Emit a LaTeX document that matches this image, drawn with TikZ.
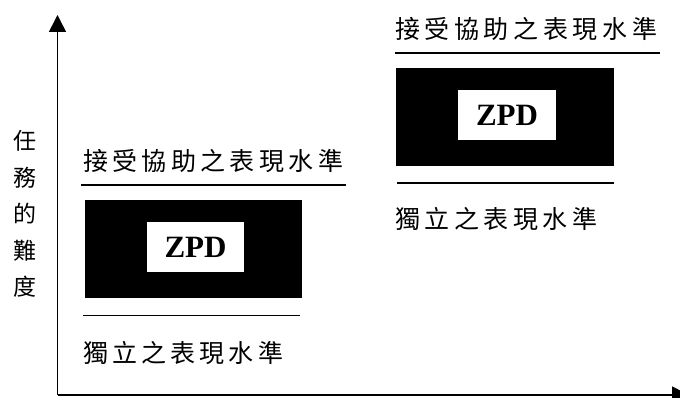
\documentclass[tikz,border=0pt]{standalone}
\usepackage{fontspec}
\setmainfont{Liberation Serif}
\newfontfamily\cjk{Noto Sans CJK TC}
\usetikzlibrary{arrows.meta}
\tikzset{
  x=1pt, y=-1pt,
  axis/.style={line width=1.6pt, -{Triangle[length=17pt,width=17pt]}},
  rule/.style={line width=1.6pt},
  blackbox/.style={fill=black, draw=none, inner sep=0pt},
  zpdbox/.style={fill=white, draw=none, inner sep=0pt, minimum width=97pt, minimum height=50pt,
    font=\fontsize{31}{31}\selectfont\bfseries},
  cjklabel/.style={inner sep=0pt, font=\cjk\fontsize{25}{25}\selectfont}
}
\begin{document}
\begin{tikzpicture}
\useasboundingbox (0,0) rectangle (680,398);
\clip (0,0) rectangle (680,398);
% axes
\coordinate (origin) at (57.5,395);
\coordinate (ytop) at (57.5,15);
\coordinate (xend) at (689,395);
\draw[axis] (origin) -- (ytop);
\draw[axis] (origin) -- (xend);
\node (ylab) [align=center, inner sep=0pt, font=\cjk\fontsize{23}{36.5}\selectfont] at (25,214) {任\\務\\的\\難\\度};
% left group
\node (lbox) [blackbox, minimum width=217pt, minimum height=98pt] at (193.5,249) {};
\node (lzpd) [zpdbox] at (195.5,247) {ZPD};
\coordinate (lua) at (81,185); \coordinate (lub) at (346,185);
\draw[rule] (lua) -- (lub);
\coordinate (lla) at (83,315.5); \coordinate (llb) at (300,315.5);
\draw[rule] (lla) -- (llb);
\node (lup) [cjklabel] at (213,161.5) {\makebox[260pt][s]{接\hfill 受\hfill 協\hfill 助\hfill 之\hfill 表\hfill 現\hfill 水\hfill 準}};
\node (llow) [cjklabel] at (183,353) {\makebox[200pt][s]{獨\hfill 立\hfill 之\hfill 表\hfill 現\hfill 水\hfill 準}};
% right group
\node (rbox) [blackbox, minimum width=218pt, minimum height=98pt] at (505,117) {};
\node (rzpd) [zpdbox, minimum width=98pt] at (507,115) {ZPD};
\coordinate (rua) at (395,53); \coordinate (rub) at (660,53);
\draw[rule] (rua) -- (rub);
\coordinate (rla) at (397,183); \coordinate (rlb) at (614,183);
\draw[rule] (rla) -- (rlb);
\node (rup) [cjklabel] at (526,29) {\makebox[262pt][s]{接\hfill 受\hfill 協\hfill 助\hfill 之\hfill 表\hfill 現\hfill 水\hfill 準}};
\node (rlow) [cjklabel] at (496,219) {\makebox[202pt][s]{獨\hfill 立\hfill 之\hfill 表\hfill 現\hfill 水\hfill 準}};
\end{tikzpicture}
\end{document}
